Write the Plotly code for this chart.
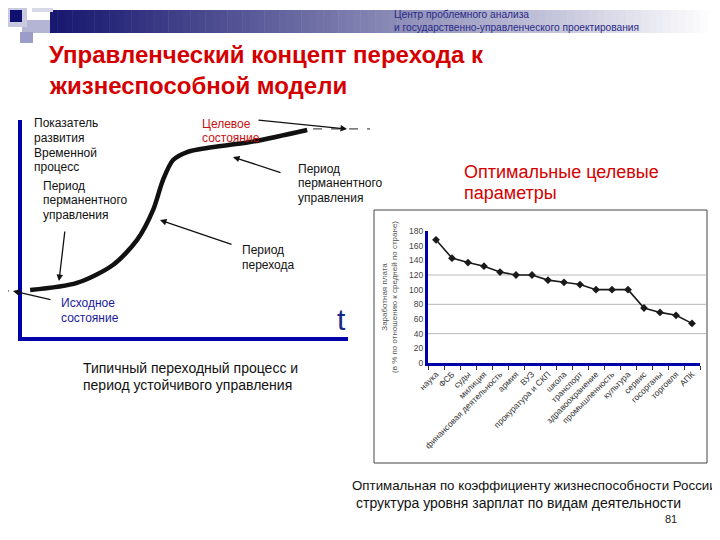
import plotly.graph_objects as go

W, H = 720, 540
OFF = 8  # page body margin offset

# ---------------- data ----------------
# right chart: optimal wage structure by activity (% of national average)
categories = ["наука", "ФСБ", "суды", "милиция", "финансовая деятельность", "армия", "ВУЗ",
              "прокуратура и СКП", "школа", "транспорт", "здравоохранение", "промышленность",
              "культура", "сервис", "госорганы", "торговля", "АПК"]
wage_pct = [168, 143, 137, 132, 124, 120, 120, 113, 110, 107, 100, 100, 100, 75, 69, 65, 54]
y_tick_vals = [0, 20, 40, 60, 80, 100, 120, 140, 160, 180]
grid_vals = [40, 80, 120]

# left schematic: typical transition process (time t vs development indicator)
curve_t = [3.1, 17.4, 28.4, 35.8, 40.7, 43.7, 46.8, 51.1, 57.2, 70.3, 87.8]
curve_level = [22.2, 25.5, 33.8, 45.4, 59.3, 73.1, 82.4, 86.1, 88.0, 90.7, 96.3]
initial_t = [-6.1, 0.0]
initial_level = [21.8, 21.8]
target_t = [89.6, 107.0]
target_level = [96.8, 96.8]

FONT = "Liberation Sans, Arial, sans-serif"
RED = "#d40000"
NAVY = "#2a2a86"
AXBLUE = "#0000a8"


def px(x):
    return (x - OFF) / W


def py(y):
    return 1 - (y - OFF) / H


fig = go.Figure()

# ---------- right chart ----------
fig.add_trace(go.Scatter(
    x=categories, y=wage_pct, mode="lines+markers",
    line=dict(color="#1a1a1a", width=1.6),
    marker=dict(symbol="diamond", size=6, color="#1a1a1a"),
    xaxis="x", yaxis="y", showlegend=False, hoverinfo="skip"))

# ---------- left schematic ----------
fig.add_trace(go.Scatter(
    x=curve_t, y=curve_level, mode="lines",
    line=dict(color="#111111", width=4.5, shape="spline", smoothing=0.8),
    xaxis="x2", yaxis="y2", showlegend=False, hoverinfo="skip"))
for tt, lv in ((initial_t, initial_level), (target_t, target_level)):
    fig.add_trace(go.Scatter(
        x=tt, y=lv, mode="lines",
        line=dict(color="#222222", width=1, dash="dash"),
        xaxis="x2", yaxis="y2", showlegend=False, hoverinfo="skip", cliponaxis=False))

shapes = []

# header gradient band
N = 90
x_start, x_end = 50, 715
for i in range(N):
    f = i / (N - 1)
    g = f ** 1.05
    r = int(24 + (255 - 24) * g)
    gg = int(24 + (255 - 24) * g)
    b = int(112 + (255 - 112) * g)
    x0 = x_start + (x_end - x_start) * i / N
    x1 = x_start + (x_end - x_start) * (i + 1) / N + 0.5
    shapes.append(dict(type="rect", xref="paper", yref="paper",
                       x0=px(x0), x1=px(x1), y0=py(33), y1=py(10),
                       fillcolor=f"rgb({r},{gg},{b})", line=dict(width=0), layer="below"))

# decorative squares
for (x0, y0, x1, y1, c) in [
    (0, 0, 10, 7, "#d4d4e6"),
    (32, 0, 53, 12, "#d8d8e8"),
    (22, 20, 50, 33, "#b4b4d4"),
    (5, 5, 27, 27, "#c8c8e0"),
    (10, 10, 22, 22, "#10106e"),
    (20, 32, 33, 43, "#9c9cc8"),
]:
    shapes.append(dict(type="rect", xref="paper", yref="paper",
                       x0=px(x0), x1=px(x1), y0=py(y1), y1=py(y0),
                       fillcolor=c, line=dict(width=0), layer="below"))

# left schematic blue axes
shapes.append(dict(type="line", xref="paper", yref="paper",
                   x0=px(20), x1=px(20), y0=py(340), y1=py(120),
                   line=dict(color=AXBLUE, width=4)))
shapes.append(dict(type="line", xref="paper", yref="paper",
                   x0=px(18), x1=px(348), y0=py(339), y1=py(339),
                   line=dict(color=AXBLUE, width=4)))

# right chart frame
shapes.append(dict(type="rect", xref="paper", yref="paper",
                   x0=px(374), x1=px(707), y0=py(463), y1=py(210),
                   line=dict(color="#444444", width=1), fillcolor="rgba(0,0,0,0)"))

# right chart gridlines
for gv in grid_vals:
    shapes.append(dict(type="line", xref="paper", yref="y",
                       x0=px(428), x1=px(706), y0=gv, y1=gv,
                       line=dict(color="#b8b8b8", width=1), layer="below"))

annotations = []


def text(x, y, s, size, color="#111111", bold=False, anchor="left", yanchor="middle"):
    annotations.append(dict(
        x=px(x), y=py(y), xref="paper", yref="paper", text=(f"<b>{s}</b>" if bold else s),
        showarrow=False, xanchor=anchor, yanchor=yanchor, align="left",
        font=dict(family=FONT, size=size, color=color)))


def arrow(tail, head):
    annotations.append(dict(
        x=px(head[0]), y=py(head[1]), xref="paper", yref="paper",
        ax=tail[0] - head[0], ay=tail[1] - head[1], axref="pixel", ayref="pixel",
        text="", showarrow=True, arrowhead=2, arrowsize=1, arrowwidth=1.3,
        arrowcolor="#111111"))


# header (one two-line block)
text(392, 21, "Центр проблемного анализа<br>и государственно-управленческого проектирования",
     10.2, NAVY)
# title
text(47, 55, "Управленческий концепт перехода к", 24, RED, bold=True)
text(47, 85, "жизнеспособной модели", 24, RED, bold=True)

# left schematic texts
for i, s in enumerate(["Показатель", "развития", "Временной", "процесс"]):
    text(32, 123 + i * 14.8, s, 12)
for i, s in enumerate(["Период", "перманентного", "управления"]):
    text(41, 186 + i * 14.5, s, 12)
for i, s in enumerate(["Целевое", "состояние"]):
    text(200, 124 + i * 13.8, s, 12, "#c81010")
for i, s in enumerate(["Период", "перманентного", "управления"]):
    text(296, 169 + i * 14.5, s, 12)
for i, s in enumerate(["Период", "перехода"]):
    text(240, 250 + i * 14.5, s, 12)
for i, s in enumerate(["Исходное", "состояние"]):
    text(59, 303 + i * 14.5, s, 12, "#1a1aa0")
text(341, 320, "t", 30, "#1a2a8a", anchor="center")

arrow((257, 120), (347, 129))
arrow((282, 173), (233, 157))
arrow((233, 245), (160, 220))
arrow((65, 230), (59, 281))
arrow((52, 300), (13, 291))

# captions
text(81, 368, "Типичный переходный процесс и", 14, "#111111")
text(81, 385, "период устойчивого управления", 14, "#111111")
text(462, 172, "Оптимальные целевые", 18, RED)
text(462, 193, "параметры", 18, RED)
text(350, 485, "Оптимальная по коэффициенту жизнеспособности России", 13.3, "#111111")
text(354, 503, "структура уровня зарплат по видам деятельности", 14, "#111111")
text(671, 519, "81", 11, "#222222", anchor="center")

# right chart y-axis title (rotated)
annotations.append(dict(
    x=px(389), y=py(297), xref="paper", yref="paper",
    text="Заработная плата<br>(в % по отношению к средней по стране)",
    showarrow=False, textangle=-90, xanchor="center", yanchor="middle",
    font=dict(family=FONT, size=8, color="#555555")))

fig.update_layout(
    width=W, height=H,
    margin=dict(l=0, r=0, t=0, b=0, autoexpand=False),
    paper_bgcolor="white", plot_bgcolor="rgba(0,0,0,0)",
    font=dict(family=FONT),
    shapes=shapes, annotations=annotations,
    xaxis=dict(domain=[px(428), px(700)], range=[-0.5, 16.5], type="category",
               showline=True, linecolor=AXBLUE, linewidth=3,
               ticks="outside", tickson="boundaries", ticklen=4, tickcolor="#333333",
               tickangle=-45, tickfont=dict(family=FONT, size=8.5, color="#333333"),
               showgrid=False, fixedrange=True, automargin=False),
    yaxis=dict(domain=[py(363), py(231)], range=[0, 180], tickvals=y_tick_vals,
               showline=True, linecolor=AXBLUE, linewidth=3, ticks="",
               tickfont=dict(family=FONT, size=8.5, color="#444444"),
               showgrid=False, zeroline=False, fixedrange=True, automargin=False),
    xaxis2=dict(domain=[0, px(370)], range=[-3.67, 107.0], visible=False,
                anchor="y2", fixedrange=True),
    yaxis2=dict(domain=[py(345), py(118)], range=[-3.24, 101.85], visible=False,
                anchor="x2", fixedrange=True),
)

fig.write_html("out.html")
